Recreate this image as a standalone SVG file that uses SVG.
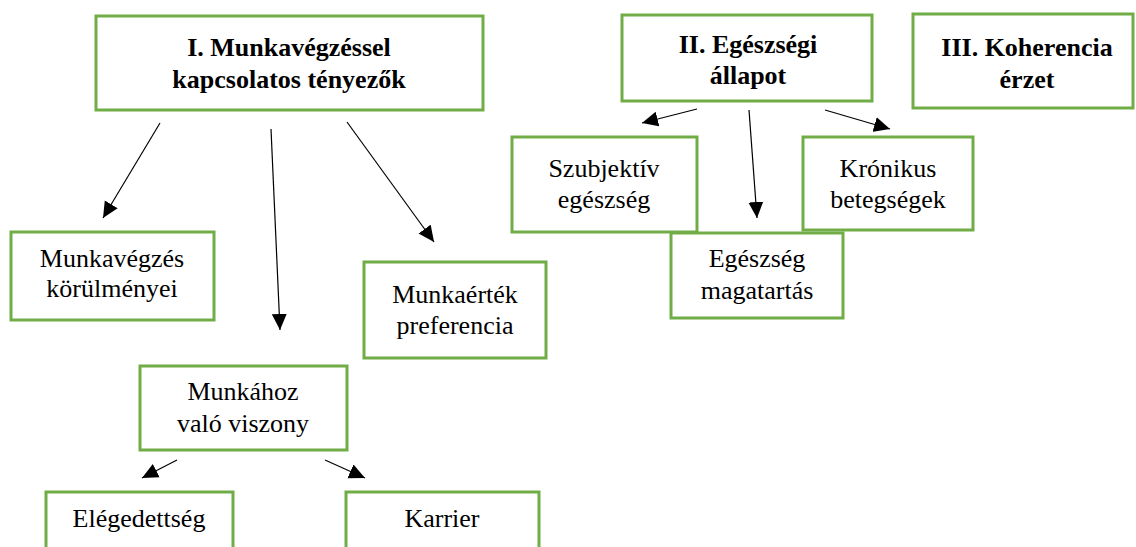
<svg xmlns="http://www.w3.org/2000/svg" width="1136" height="547" viewBox="0 0 1136 547">
<style>
.box{fill:#fff;stroke:#70AD47;stroke-width:3}
.t{font-family:"Liberation Serif","Times New Roman",serif;font-size:26px;fill:#000;text-anchor:middle}
.b{font-weight:bold}
.c{stroke:#000;stroke-width:1.2;fill:none;marker-end:url(#ah)}
</style>
<defs>
<marker id="ah" viewBox="0 0 16 16" refX="16" refY="8" markerWidth="16" markerHeight="16" markerUnits="userSpaceOnUse" orient="auto">
<path d="M0,0.5 L16,8 L0,15.5 z" fill="#000"/>
</marker>
</defs>
<rect width="1136" height="547" fill="#fff"/>
<g id="connectors">
<line class="c" x1="160" y1="123" x2="103" y2="218"/>
<line class="c" x1="271" y1="129" x2="280" y2="330"/>
<line class="c" x1="347" y1="122" x2="434" y2="242"/>
<line class="c" x1="697" y1="109" x2="642" y2="123"/>
<line class="c" x1="749" y1="110" x2="757" y2="218"/>
<line class="c" x1="825" y1="110" x2="890" y2="129"/>
<line class="c" x1="177" y1="460" x2="142" y2="478"/>
<line class="c" x1="325" y1="460" x2="365" y2="478"/>
</g>
<g id="n1">
<rect class="box" x="96" y="16" width="387" height="94"/>
<text class="t b" x="289" y="56">I. Munkavégzéssel</text>
<text class="t b" x="289" y="88">kapcsolatos tényezők</text>
</g>
<g id="n2">
<rect class="box" x="622" y="15" width="250" height="86"/>
<text class="t b" x="748" y="53">II. Egészségi</text>
<text class="t b" x="748" y="84">állapot</text>
</g>
<g id="n3">
<rect class="box" x="913" y="14" width="220" height="94"/>
<text class="t b" x="1027" y="56">III. Koherencia</text>
<text class="t b" x="1027" y="88">érzet</text>
</g>
<g id="n4">
<rect class="box" x="11" y="232" width="203" height="88"/>
<text class="t" x="112" y="267">Munkavégzés</text>
<text class="t" x="112" y="297">körülményei</text>
</g>
<g id="n5">
<rect class="box" x="364" y="262" width="182" height="96"/>
<text class="t" x="455" y="303">Munkaérték</text>
<text class="t" x="455" y="334">preferencia</text>
</g>
<g id="n6">
<rect class="box" x="140" y="366" width="207" height="84"/>
<text class="t" x="243" y="400">Munkához</text>
<text class="t" x="243" y="432">való viszony</text>
</g>
<g id="n7">
<rect class="box" x="46" y="492" width="187" height="70"/>
<text class="t" x="139" y="527">Elégedettség</text>
</g>
<g id="n8">
<rect class="box" x="346" y="492" width="193" height="70"/>
<text class="t" x="442" y="527">Karrier</text>
</g>
<g id="n9">
<rect class="box" x="512" y="137" width="185" height="95"/>
<text class="t" x="604" y="177">Szubjektív</text>
<text class="t" x="604" y="208">egészség</text>
</g>
<g id="n10">
<rect class="box" x="803" y="137" width="170" height="93"/>
<text class="t" x="888" y="177">Krónikus</text>
<text class="t" x="888" y="208">betegségek</text>
</g>
<g id="n11">
<rect class="box" x="671" y="233" width="172" height="85"/>
<text class="t" x="757" y="267">Egészség</text>
<text class="t" x="757" y="299">magatartás</text>
</g>
</svg>
